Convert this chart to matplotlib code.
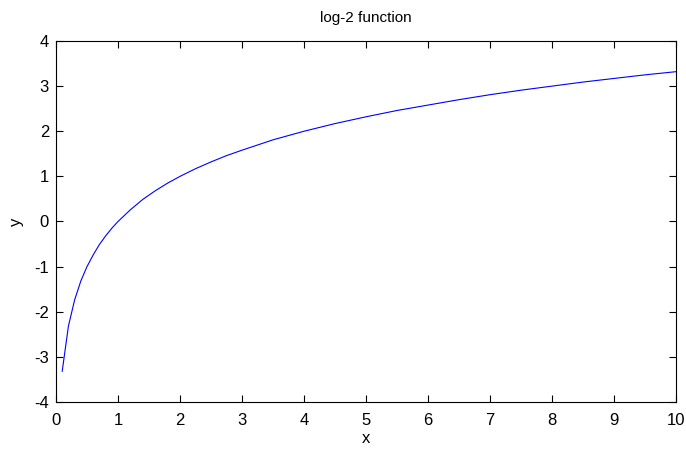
import matplotlib
matplotlib.use("Agg")
from matplotlib import pyplot as plt

# points
x = [0.1, 0.2, 0.3, 0.4, 0.5, 0.6, 0.7, 0.8, 0.9, 1.0,
     1.2, 1.4, 1.6, 1.8, 2.0, 2.25, 2.5, 2.75, 3.0, 3.5,
     4.0, 4.5, 5.0, 5.5, 6.0, 6.5, 7.0, 7.5, 8.0, 8.5,
     9.0, 9.5, 10.0]
y = [-3.32, -2.32, -1.74, -1.32, -1.00, -0.74, -0.51, -0.32, -0.15, 0.00,
     0.26, 0.49, 0.68, 0.85, 1.00, 1.17, 1.32, 1.46, 1.58, 1.81,
     2.00, 2.17, 2.32, 2.46, 2.58, 2.70, 2.81, 2.91, 3.00, 3.09,
     3.17, 3.25, 3.32]

xticks = list(range(0, 11))
yticks = list(range(-4, 5))

if __name__ == "__main__":
    plt.rcParams['font.family'] = ['Liberation Sans', 'DejaVu Sans']
    plt.rcParams['axes.unicode_minus'] = False

    fig = plt.figure(figsize=(6.86, 4.49), dpi=100)
    ax = fig.add_axes([56 / 686, 1 - 402 / 449, 620 / 686, 361 / 449])

    ax.plot(x, y, color=(0, 0, 1), linewidth=0.8)

    ax.set_xlim(0, 10)
    ax.set_ylim(-4, 4)
    ax.set_xticks(xticks)
    ax.set_yticks(yticks)
    ax.tick_params(direction='in', top=True, right=True, length=5,
                   width=0.8, labelsize=12)
    ax.tick_params(axis='x', pad=8)
    ax.tick_params(axis='y', pad=5)
    for s in ax.spines.values():
        s.set_linewidth(0.8)

    ax.set_title('log-2 function', fontsize=11, pad=14)
    ax.set_xlabel('x', fontsize=12, labelpad=2)
    ax.set_ylabel('y', fontsize=12, labelpad=7)

    fig.savefig('out.png', dpi=100)
